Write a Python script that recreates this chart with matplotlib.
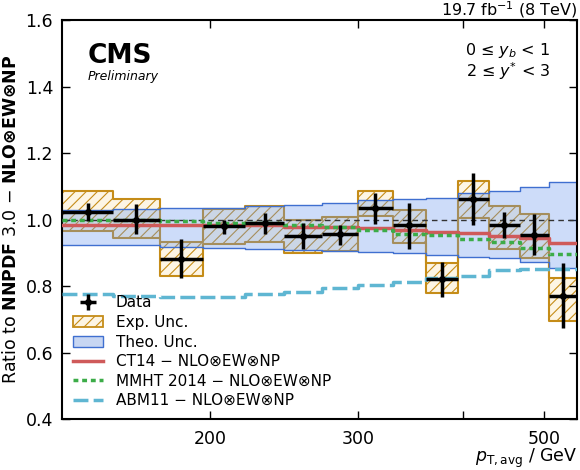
import numpy as np
import matplotlib
matplotlib.use('Agg')
import matplotlib.pyplot as plt
from matplotlib.patches import Patch
from matplotlib.ticker import FixedLocator, NullLocator

plt.rcParams['mathtext.fontset'] = 'dejavusans'
plt.rcParams['hatch.linewidth'] = 0.8

# pT,avg bin edges (GeV)
edges = np.array([133, 153, 174, 196, 220, 245, 272, 300, 330, 362, 395, 430, 468, 507, 548])

# data / NNPDF 3.0 with its error bar ends
data = np.array([1.023, 1.000, 0.881, 0.980, 0.989, 0.952, 0.956, 1.034, 0.985, 0.821, 1.061, 0.985, 0.955, 0.771])
data_hi = np.array([1.049, 1.047, 0.941, 0.999, 1.020, 0.990, 0.984, 1.081, 1.051, 0.873, 1.139, 1.023, 1.016, 0.868])
data_lo = np.array([0.997, 0.957, 0.824, 0.957, 0.956, 0.913, 0.923, 0.987, 0.913, 0.768, 0.985, 0.946, 0.893, 0.675])

# experimental uncertainty boxes
exp_lo = [0.966, 0.945, 0.830, 0.926, 0.933, 0.900, 0.906, 1.011, 0.930, 0.778, 1.005, 0.913, 0.885, 0.695]
exp_hi = [1.087, 1.061, 0.933, 1.031, 1.042, 1.000, 1.008, 1.087, 1.029, 0.870, 1.116, 1.041, 1.016, 0.823]

# theory (NNPDF) uncertainty band
theo_lo = [0.923, 0.923, 0.918, 0.916, 0.911, 0.908, 0.905, 0.903, 0.900, 0.895, 0.886, 0.883, 0.873, 0.855]
theo_hi = [1.030, 1.031, 1.034, 1.036, 1.040, 1.044, 1.049, 1.060, 1.063, 1.066, 1.079, 1.086, 1.097, 1.114]

# other PDF sets
ct14 = [0.983, 0.983, 0.983, 0.983, 0.983, 0.979, 0.979, 0.975, 0.970, 0.964, 0.959, 0.951, 0.944, 0.931]
mmht = [0.998, 0.998, 0.995, 0.991, 0.990, 0.983, 0.978, 0.970, 0.958, 0.953, 0.941, 0.933, 0.915, 0.896]
abm11 = [0.776, 0.771, 0.766, 0.768, 0.775, 0.783, 0.793, 0.803, 0.813, 0.823, 0.830, 0.848, 0.852, 0.852]


def steps(v):
    v = list(v)
    return v + [v[-1]]


centers = np.sqrt(edges[:-1] * edges[1:])

fig = plt.figure(figsize=(5.8, 4.7), dpi=100)
ax = fig.add_axes([0.107, 0.1085, 0.888, 0.8485])

exp_col = '#c58c18'
ax.fill_between(edges, steps(exp_lo), steps(exp_hi), step='post', facecolor='#fdf5e4',
                edgecolor=exp_col, hatch='///', lw=1.5, zorder=1)
ax.fill_between(edges, steps(theo_lo), steps(theo_hi), step='post', facecolor='cornflowerblue',
                alpha=0.32, lw=0, zorder=2)
ax.step(edges, steps(theo_lo), where='post', color='#3f6fd0', lw=1, zorder=2)
ax.step(edges, steps(theo_hi), where='post', color='#3f6fd0', lw=1, zorder=2)
ax.axhline(1.0, color='#333333', lw=1, ls=(0, (4, 3)), zorder=3)

l_ct, = ax.step(edges, steps(ct14), where='post', color='#cf5a5a', lw=2.5, zorder=4)
l_mm, = ax.step(edges, steps(mmht), where='post', color='#3cac48', lw=2.5, ls=(0, (1.4, 1.1)), zorder=4)
l_abm, = ax.step(edges, steps(abm11), where='post', color='#5fb6d2', lw=2.5, ls=(0, (4.3, 1.5)), zorder=4)

eb = ax.errorbar(centers, data, yerr=[data - data_lo, data_hi - data],
                 xerr=[centers - edges[:-1], edges[1:] - centers],
                 fmt='o', ms=4, color='k', lw=2.5, capsize=0, zorder=6)

ax.set_xscale('log')
ax.set_xlim(133, 548)
ax.set_ylim(0.4, 1.6)
ax.xaxis.set_major_locator(FixedLocator([200, 300, 400, 500]))
ax.xaxis.set_minor_locator(NullLocator())
ax.set_xticklabels(['200', '300', '', '500'])
ax.set_yticks([0.4, 0.6, 0.8, 1.0, 1.2, 1.4, 1.6])
ax.tick_params(direction='in', top=True, right=True, length=6, width=1, labelsize=12.5)
ax.tick_params(axis='x', pad=8)
ax.tick_params(axis='y', pad=6.5)
for s in ax.spines.values():
    s.set_linewidth(1.5)

ax.set_xlabel(r'$p_{\mathrm{T,avg}}$ / GeV', loc='right', fontsize=12.5, labelpad=-1)
ax.set_ylabel(r'Ratio to $\mathbf{NNPDF}$ 3.0 $-$ $\mathbf{NLO{\otimes}EW{\otimes}NP}$', fontsize=12.5)

ax.text(0.05, 0.892, 'CMS', transform=ax.transAxes, fontsize=19, fontweight='bold', va='baseline')
ax.text(0.05, 0.85, 'Preliminary', transform=ax.transAxes, fontsize=9, style='italic', va='baseline')
ax.text(0.948, 0.912, '0 ≤ $y_b$ < 1', transform=ax.transAxes, fontsize=11.5, ha='right', va='baseline')
ax.text(0.948, 0.857, '2 ≤ $y^{*}$ < 3', transform=ax.transAxes, fontsize=11.5, ha='right', va='baseline')
ax.text(1.0, 1.012, r'19.7 fb$^{-1}$ (8 TeV)', transform=ax.transAxes, fontsize=11.5, ha='right', va='baseline')

exp_patch = Patch(facecolor='#fdf5e4', edgecolor=exp_col, hatch='///', lw=1.3)
theo_patch = Patch(facecolor=(0.78, 0.84, 0.95), edgecolor='#3f6fd0', lw=1)
handles = [eb, exp_patch, theo_patch, l_ct, l_mm, l_abm]
labels = ['Data', 'Exp. Unc.', 'Theo. Unc.', 'CT14 − NLO⊗EW⊗NP',
          'MMHT 2014 − NLO⊗EW⊗NP', 'ABM11 − NLO⊗EW⊗NP']
ax.legend(handles, labels, loc='lower left', frameon=False, fontsize=11,
          handlelength=2.0, handletextpad=0.8, labelspacing=0.3,
          borderaxespad=0.3, bbox_to_anchor=(0.0, 0.0))

fig.savefig('out.png', dpi=100)
